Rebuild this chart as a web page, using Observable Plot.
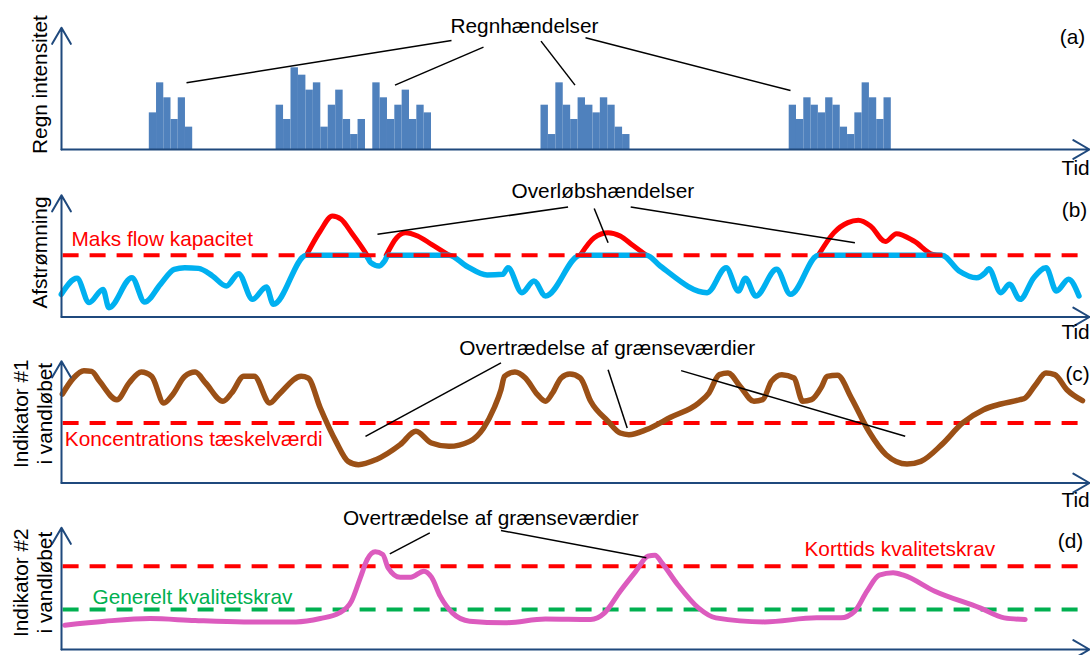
<!DOCTYPE html>
<html>
<head>
<meta charset="utf-8">
<script src="https://cdn.jsdelivr.net/npm/d3@7"></script>
<script src="https://cdn.jsdelivr.net/npm/@observablehq/plot@0.6"></script>
<style>
html, body { margin: 0; padding: 0; background: #ffffff; }
#chart { width: 1090px; height: 655px; overflow: hidden; position: relative; }
#chart svg { display: block; overflow: visible; }
</style>
</head>
<body>
<div id="chart"></div>
<script>
// ================= DATA =================
// time axis (shared by all four panels): start and end of the arrow
const timeAxis = [61, 1089];
const valueAxisTop = 127;

// (a) rain events: start/end time of each event and the intensity of each time step
const rainStart = [148.8, 275.6, 372.3, 540.5, 788.7];
const rainEnd   = [192.2, 365.0, 431.0, 629.5, 890.8];
const rainIntensity = [
  [38.2, 69.5, 53.9, 31.3, 53.9, 23.3],
  [46.2, 31.3, 85.2, 77.5, 61.9, 69.5, 23.3, 46.2, 61.9, 31.3, 15.6, 31.3],
  [69.5, 53.9, 31.3, 46.2, 61.9, 31.3, 46.2, 38.2],
  [46.2, 15.6, 69.5, 46.2, 31.3, 53.9, 46.2, 38.2, 53.9, 46.2, 23.3, 15.6],
  [46.2, 31.3, 53.9, 46.2, 38.2, 53.9, 46.2, 23.3, 15.6, 38.2, 69.5, 53.9, 31.3, 53.9]
];
const rainLeaders = [
  {t1: 451, v1: 113.7, t2: 186, v2: 69.5},
  {t1: 483, v1: 106.7, t2: 394.5, v2: 67.1},
  {t1: 540.5, v1: 113, t2: 574.5, v2: 67.1},
  {t1: 585, v1: 116.5, t2: 790, v2: 61.5}
];

// (b) runoff: capped flow (blue) and the overflow humps above capacity (red)
const flowCapacity = 64.5;
const flowBlue = [
  [60.8, 23.6], [76.5, 40.3], [88.6, 15.0], [102.5, 28.8], [108.4, 9.7], [131.4, 41.0],
  [144.2, 15.6], [159.9, 34.1], [173.8, 49.7], [184.2, 51.4], [198.1, 50.7], [212.0, 42.8],
  [225.9, 32.3], [238.1, 45.2], [252.0, 18.4], [265.9, 31.3], [272.9, 13.2], [305.9, 64.5],
  [365.0, 64.5], [370.2, 56.7], [378.9, 53.2], [384.1, 58.4], [387.6, 64.5], [448.4, 64.5],
  [465.8, 53.2], [486.6, 43.8], [502.3, 44.5], [507.5, 51.4], [521.4, 25.4], [533.5, 37.5],
  [545.0, 21.9], [579.8, 64.5], [645.8, 64.5], [659.7, 53.2], [706.6, 25.4], [725.7, 51.4],
  [737.9, 27.1], [744.9, 40.3], [755.3, 21.9], [776.1, 49.7], [790.0, 23.6], [817.9, 64.5],
  [941.2, 64.5], [958.6, 48.0], [976.0, 41.0], [984.7, 46.2], [988.2, 50.4], [1000.3, 25.4],
  [1009.0, 34.1], [1019.5, 18.4], [1033.3, 41.0], [1045.5, 51.4], [1055.9, 27.1],
  [1068.1, 39.3], [1078.5, 21.9]
];
const overflow1 = [[305.9, 64.5], [319.8, 89.7], [331.9, 105.3], [340.6, 101.9], [351.0, 87.9], [365.0, 67.0], [368.4, 61.2]];
const overflow2 = [[385.8, 64.5], [396.2, 82.7], [404.9, 87.9], [417.1, 84.5], [431.0, 75.8], [448.4, 64.5]];
const overflow3 = [[579.8, 64.5], [593.7, 82.7], [607.6, 87.9], [619.7, 84.5], [631.9, 75.1], [645.8, 64.5]];
const overflow4 = [[817.9, 64.5], [833.5, 88.0], [847.4, 98.4], [857.8, 100.8], [870.0, 94.9], [884.9, 78.6],
                   [896.0, 86.9], [913.4, 79.2], [932.6, 65.3], [941.2, 64.5]];
const flowLeaders = [
  {t1: 377, v1: 86.2, t2: 567.6, v2: 114.7},
  {t1: 593.7, v1: 113.2, t2: 607.6, v2: 77.5},
  {t1: 630.2, v1: 114.7, t2: 854.4, v2: 77.5}
];

// (c) indicator #1
const threshold1 = 62.6;
const indicator1 = [
  [61.9, 92.8], [73.0, 109.5], [83.4, 117.1], [91.1, 116.4], [99.1, 106.0], [116.4, 86.9],
  [128.6, 104.3], [140.8, 115.7], [151.2, 111.2], [163.4, 83.4], [172.1, 92.1], [184.2, 111.2],
  [194.6, 115.7], [205.1, 104.3], [222.5, 85.2], [231.1, 93.8], [243.3, 111.2], [253.7, 111.2],
  [269.4, 83.4], [278.1, 92.1], [300.7, 111.2], [307.6, 109.5], [319.8, 78.2], [335.4, 43.4],
  [347.6, 22.6], [358.0, 19.1], [375.4, 24.3], [399.7, 40.0], [415.4, 53.9], [431.0, 41.7],
  [448.4, 38.2], [469.2, 43.4], [483.1, 57.4], [493.6, 78.2], [500.5, 97.3], [504.0, 111.2],
  [514.4, 115.7], [524.9, 109.5], [537.0, 92.1], [545.0, 85.2], [552.0, 93.8], [560.6, 109.5],
  [569.3, 113.6], [579.8, 109.5], [590.2, 85.2], [607.6, 64.3], [619.7, 52.1], [628.4, 50.4],
  [645.8, 55.6], [670.1, 68.5], [698.0, 83.4], [708.4, 93.8], [718.8, 113.0], [727.5, 114.7],
  [739.6, 100.8], [753.5, 85.2], [762.2, 86.9], [770.9, 106.0], [781.3, 113.0], [793.5, 109.5],
  [802.2, 85.2], [810.9, 86.9], [821.3, 100.8], [826.5, 111.2], [837.0, 112.3], [850.9, 88.6],
  [868.3, 53.9], [885.6, 29.5], [906.5, 19.8], [920.4, 22.6], [941.2, 40.0], [962.1, 62.6],
  [983.0, 76.5], [1000.3, 82.4], [1019.5, 86.9], [1024.7, 88.6], [1035.1, 102.5],
  [1045.5, 114.7], [1054.2, 113.0], [1066.4, 97.3], [1082.0, 85.9]
];
const indicator1Leaders = [
  {t1: 500.5, v1: 125.2, t2: 365, v2: 48.7},
  {t1: 607.6, v1: 118.2, t2: 626.7, v2: 57.4},
  {t1: 680.6, v1: 117.2, t2: 904.7, v2: 48.7}
];

// (d) indicator #2
const shortTermLimit = 86.9;
const generalLimit = 41.7;
const indicator2 = [
  [64.3, 25.4], [104.3, 29.5], [149.5, 32.3], [194.6, 30.2], [243.3, 28.8], [295.4, 28.8],
  [319.8, 32.3], [338.9, 38.2], [351.0, 50.4], [359.8, 74.7], [366.7, 93.8], [374.7, 101.8],
  [382.3, 99.1], [387.6, 85.2], [399.7, 75.4], [410.2, 75.4], [423.4, 81.7], [431.0, 75.4],
  [439.7, 55.6], [451.9, 38.2], [469.2, 29.5], [504.0, 27.8], [545.0, 31.8], [590.2, 31.3],
  [604.1, 38.2], [619.7, 60.8], [635.4, 81.7], [647.5, 97.3], [654.5, 98.4], [661.4, 90.4],
  [677.1, 67.8], [697.9, 43.4], [715.3, 33.0], [764.0, 28.8], [816.1, 33.0], [840.4, 33.0],
  [854.3, 40.0], [866.5, 60.8], [878.7, 77.5], [892.6, 80.0], [903.0, 77.5], [934.3, 60.8],
  [979.5, 43.4], [1003.8, 33.0], [1024.7, 31.3]
];
const indicator2Leaders = [
  {t1: 429.3, v1: 121.7, t2: 389.3, v2: 99.8},
  {t1: 500.5, v1: 124.1, t2: 645.8, v2: 95.6}
];

// texts
const yLabels = ["Regn intensitet", "Afstrømning", "Indikator #1\ni vandløbet", "Indikator #2\ni vandløbet"];
const panelTags = ["(a)", "(b)", "(c)", "(d)"];
const timeLabel = "Tid";

// ================= DRAWING =================
const W = 1090;
const NAVY = "#1F497D";
const FONT = "'Liberation Sans', Arial, Helvetica, sans-serif";
const FS = 20.8;
const PX_PER_UNIT = 0.959;

function axesMarks() {
  return [
    Plot.arrow([{t1: timeAxis[0], v1: 0, t2: timeAxis[1], v2: 0}],
      {x1: "t1", y1: "v1", x2: "t2", y2: "v2", stroke: NAVY, strokeWidth: 2, headLength: 14, headAngle: 60}),
    Plot.arrow([{t1: timeAxis[0], v1: 0, t2: timeAxis[0], v2: valueAxisTop}],
      {x1: "t1", y1: "v1", x2: "t2", y2: "v2", stroke: NAVY, strokeWidth: 2, headLength: 14, headAngle: 60})
  ];
}
function txt(items, opts) {
  return Plot.text(items, {x: "t", y: "v", text: "s", fontSize: FS, fill: "black", ...opts});
}
function leaders(data) {
  return Plot.link(data, {x1: "t1", y1: "v1", x2: "t2", y2: "v2", stroke: "black", strokeWidth: 1.5});
}
function curve(points, stroke, width) {
  return Plot.line(points, {x: d => d[0], y: d => d[1], stroke, strokeWidth: width,
    curve: "monotone-x", strokeLinecap: "round", strokeLinejoin: "round"});
}
function dashed(level, color) {
  return Plot.ruleY([level], {x1: 62.6, x2: 1078.5, stroke: color, strokeWidth: 4, strokeDasharray: "16,11"});
}
function panel(height, base, marks) {
  return Plot.plot({
    width: W, height, margin: 0,
    x: {axis: null, domain: [0, W], range: [0, W]},
    y: {axis: null, domain: [0, 100], range: [base, base - 100 * PX_PER_UNIT]},
    style: {background: "transparent", overflow: "visible", fontFamily: FONT},
    marks
  });
}

const rainBars = rainIntensity.flatMap((hs, i) => {
  const w = (rainEnd[i] - rainStart[i]) / hs.length;
  return hs.map((h, j) => ({t1: rainStart[i] + j * w, t2: rainStart[i] + (j + 1) * w, h}));
});

const chart = document.getElementById("chart");

// (a)  panel top 0
chart.append(panel(166, 149, [
  Plot.rectY(rainBars, {x1: "t1", x2: "t2", y: "h", fill: "#4F81BD"}),
  ...axesMarks(),
  leaders(rainLeaders),
  txt([{s: "Regnhændelser", t: 450, v: 121.7}], {textAnchor: "start", lineAnchor: "bottom"}),
  txt([{s: yLabels[0], t: 40, v: 67.7}], {rotate: -90, textAnchor: "middle", lineAnchor: "middle"}),
  txt([{s: panelTags[0], t: 1072, v: 116.7}], {textAnchor: "middle", lineAnchor: "middle"}),
  txt([{s: timeLabel, t: 1061, v: -26.3}], {textAnchor: "start", lineAnchor: "bottom"})
]));

// (b)  panel top 166
chart.append(panel(164, 150.5, [
  curve(overflow1, "#FF0000", 5),
  curve(overflow2, "#FF0000", 5),
  curve(overflow3, "#FF0000", 5),
  curve(overflow4, "#FF0000", 5),
  curve(flowBlue, "#00B0F0", 5.5),
  dashed(flowCapacity, "#FF0000"),
  ...axesMarks(),
  leaders(flowLeaders),
  txt([{s: "Maks flow kapacitet", t: 71, v: 74.2}], {fill: "#FF0000", textAnchor: "start", lineAnchor: "bottom"}),
  txt([{s: "Overløbshændelser", t: 511, v: 123.7}], {textAnchor: "start", lineAnchor: "bottom"}),
  txt([{s: yLabels[1], t: 40, v: 67.2}], {rotate: -90, textAnchor: "middle", lineAnchor: "middle"}),
  txt([{s: panelTags[1], t: 1074, v: 111.2}], {textAnchor: "middle", lineAnchor: "middle"}),
  txt([{s: timeLabel, t: 1061, v: -22.8}], {textAnchor: "start", lineAnchor: "bottom"})
]));

// (c)  panel top 330
chart.append(panel(166, 152.5, [
  dashed(threshold1, "#FF0000"),
  curve(indicator1, "#9B5016", 5.5),
  ...axesMarks(),
  leaders(indicator1Leaders),
  txt([{s: "Koncentrations tæskelværdi", t: 64.3, v: 38.2}], {fill: "#FF0000", textAnchor: "start", lineAnchor: "bottom"}),
  txt([{s: "Overtrædelse af grænseværdier", t: 458.8, v: 133.2}], {textAnchor: "start", lineAnchor: "bottom"}),
  txt([{s: yLabels[2], t: 31.5, v: 72.2}], {rotate: -90, textAnchor: "middle", lineAnchor: "middle", lineHeight: 1.2}),
  txt([{s: panelTags[2], t: 1077, v: 113.2}], {textAnchor: "middle", lineAnchor: "middle"}),
  txt([{s: timeLabel, t: 1061, v: -24.8}], {textAnchor: "start", lineAnchor: "bottom"})
]));

// (d)  panel top 496
chart.append(panel(159, 153, [
  dashed(shortTermLimit, "#FF0000"),
  dashed(generalLimit, "#00B050"),
  curve(indicator2, "#DC5BBE", 5),
  ...axesMarks(),
  leaders(indicator2Leaders),
  txt([{s: "Generelt kvalitetskrav", t: 92, v: 47.7}], {fill: "#00B050", textAnchor: "start", lineAnchor: "bottom"}),
  txt([{s: "Korttids kvalitetskrav", t: 804, v: 97.7}], {fill: "#FF0000", textAnchor: "start", lineAnchor: "bottom"}),
  txt([{s: "Overtrædelse af grænseværdier", t: 342.4, v: 129.7}], {textAnchor: "start", lineAnchor: "bottom"}),
  txt([{s: yLabels[3], t: 31.5, v: 69.7}], {rotate: -90, textAnchor: "middle", lineAnchor: "middle", lineHeight: 1.2}),
  txt([{s: panelTags[3], t: 1070, v: 112.7}], {textAnchor: "middle", lineAnchor: "middle"})
]));
</script>
</body>
</html>
